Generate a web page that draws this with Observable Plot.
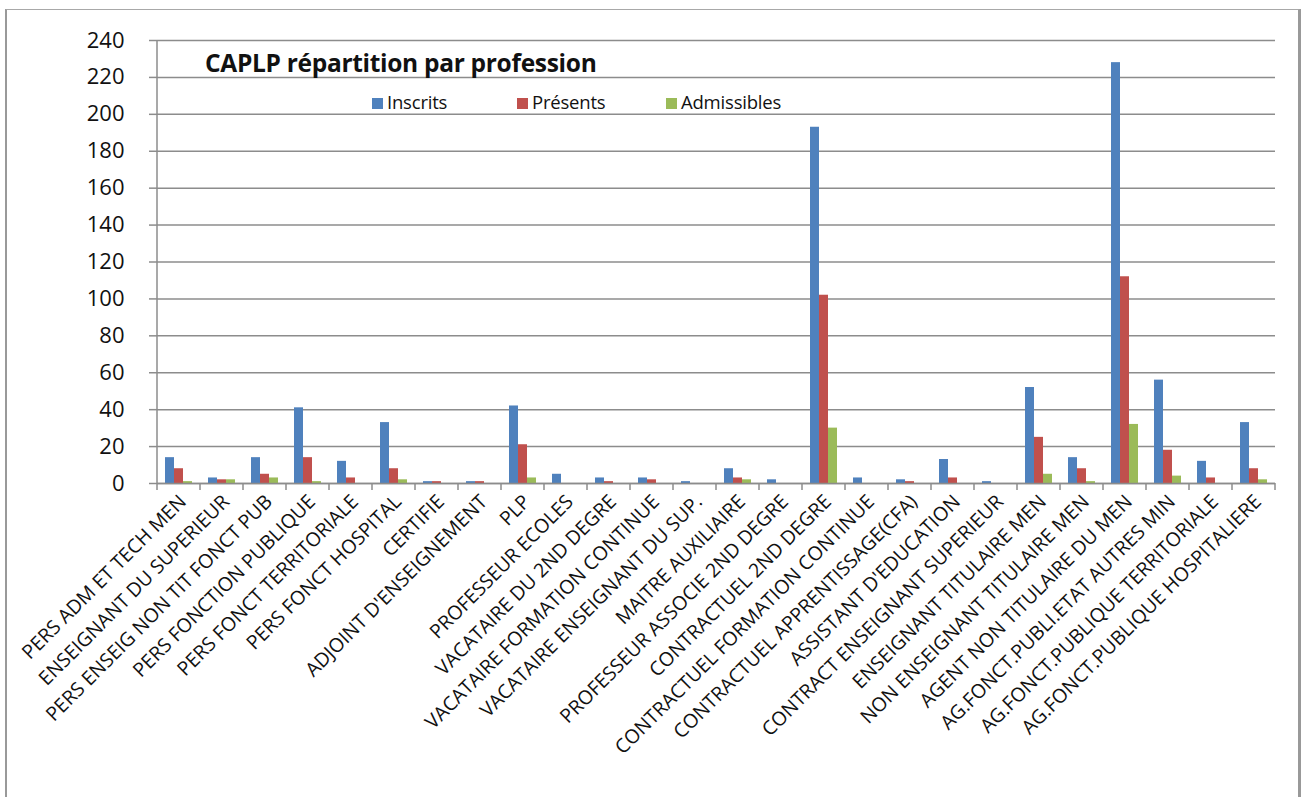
<!DOCTYPE html>
<html>
<head>
<meta charset="utf-8">
<script src="https://cdn.jsdelivr.net/npm/d3@7"></script>
<script src="https://cdn.jsdelivr.net/npm/@observablehq/plot@0.6"></script>
<style>
  html, body { margin: 0; padding: 0; background: #fff; overflow: hidden; }
  #wrap { position: relative; width: 1307px; height: 797px; }
  #frame { position: absolute; left: 5px; top: 9px; width: 1296px; height: 820px;
           border-top: 1.5px solid #a8a8a8; border-left: 2px solid #999; border-right: 3px solid #999; box-sizing: border-box; }
  #chart { position: absolute; left: 0; top: 0; }
  #title { position: absolute; left: 205px; top: 49px; font: bold 24.5px "Open Sans", sans-serif; line-height: 28px; color: #111; white-space: nowrap; letter-spacing: -0.3px; }
  .leg { position: absolute; top: 91px; font: 18.5px "Open Sans", sans-serif; line-height: 22px; color: #111; white-space: nowrap; letter-spacing: -0.2px; }
  .leg span.sw { display: inline-block; width: 11px; height: 11px; margin-right: 4px; vertical-align: 0px; }
</style>
</head>
<body>
<div id="wrap">
  <div id="frame"></div>
  <div id="chart"></div>
  <div id="title">CAPLP répartition par profession</div>
  <div id="legend"></div>
</div>
<script>
const categories = [
  "PERS ADM ET TECH MEN",
  "ENSEIGNANT DU SUPERIEUR",
  "PERS ENSEIG NON TIT FONCT PUB",
  "PERS FONCTION PUBLIQUE",
  "PERS FONCT TERRITORIALE",
  "PERS FONCT HOSPITAL",
  "CERTIFIE",
  "ADJOINT D'ENSEIGNEMENT",
  "PLP",
  "PROFESSEUR ECOLES",
  "VACATAIRE DU 2ND DEGRE",
  "VACATAIRE FORMATION CONTINUE",
  "VACATAIRE ENSEIGNANT DU SUP.",
  "MAITRE AUXILIAIRE",
  "PROFESSEUR ASSOCIE 2ND DEGRE",
  "CONTRACTUEL 2ND DEGRE",
  "CONTRACTUEL FORMATION CONTINUE",
  "CONTRACTUEL APPRENTISSAGE(CFA)",
  "ASSISTANT D'EDUCATION",
  "CONTRACT ENSEIGNANT SUPERIEUR",
  "ENSEIGNANT TITULAIRE MEN",
  "NON ENSEIGNANT TITULAIRE MEN",
  "AGENT NON TITULAIRE DU MEN",
  "AG.FONCT.PUBLI.ETAT AUTRES MIN",
  "AG.FONCT.PUBLIQUE TERRITORIALE",
  "AG.FONCT.PUBLIQUE HOSPITALIERE"
];
const inscrits    = [14, 3, 14, 41, 12, 33, 1, 1, 42, 5, 3, 3, 1, 8, 2, 193, 3, 2, 13, 1, 52, 14, 228, 56, 12, 33];
const presents    = [ 8, 2,  5, 14,  3,  8, 1, 1, 21, 0, 1, 2, 0, 3, 0, 102, 0, 1,  3, 0, 25,  8, 112, 18,  3,  8];
const admissibles = [ 1, 2,  3,  1,  0,  2, 0, 0,  3, 0, 0, 0, 0, 2, 0,  30, 0, 0,  0, 0,  5,  1,  32,  4,  0,  2];
const seriesNames = ["Inscrits", "Présents", "Admissibles"];
const seriesColors = ["#4F81BD", "#C0504D", "#9BBB59"];
const yTicks = [0, 20, 40, 60, 80, 100, 120, 140, 160, 180, 200, 220, 240];

const seriesValues = [inscrits, presents, admissibles];
const data = [];
categories.forEach((c, i) => {
  seriesNames.forEach((s, j) => data.push({cat: c, series: s, value: seriesValues[j][i]}));
});

const chart = Plot.plot({
  width: 1307,
  height: 797,
  marginLeft: 149,
  marginRight: 24,
  marginTop: 40,
  marginBottom: 314,
  style: {background: "transparent", fontFamily: "'Open Sans', sans-serif", color: "#111"},
  fx: {domain: categories, padding: 0, label: null, axis: null},
  x: {domain: seriesNames, paddingInner: 0, paddingOuter: 0.7, axis: null},
  y: {domain: [0, 240], label: null},
  color: {domain: seriesNames, range: seriesColors},
  marks: [
    Plot.gridY(yTicks, {stroke: "#8c8c8c", strokeOpacity: 1, strokeWidth: 1.5}),
    Plot.axisY(yTicks, {tickSize: 8, tickPadding: 25, fontSize: 22, stroke: "#8c8c8c", strokeWidth: 1.5, label: null}),
    Plot.barY(data, {fx: "cat", x: "series", y: "value", fill: "series"}),
    Plot.ruleY([0], {stroke: "#8c8c8c", strokeWidth: 1.5}),
    Plot.axisFx({anchor: "bottom", tickRotate: -45, tickSize: 0, tickPadding: 15, fontSize: 19.5,
                 lineWidth: Infinity, textOverflow: null, label: null, fill: "#111", dx: 4})
  ]
});

// axis line and category boundary ticks, positioned from Plot's own scales
const fx = chart.scale("fx");
const ys = chart.scale("y");
const svg = d3.select(chart.tagName.toLowerCase() === "svg" ? chart : chart.querySelector("svg"));
const y0 = ys.apply(0), yTop = ys.apply(240);
const bounds = categories.map(c => fx.apply(c));
bounds.push(fx.apply(categories[categories.length - 1]) + fx.bandwidth);
const g = svg.append("g").attr("stroke", "#8c8c8c").attr("stroke-width", 1.5);
g.append("line").attr("x1", bounds[0]).attr("x2", bounds[0]).attr("y1", yTop).attr("y2", y0);
bounds.forEach(b => g.append("line").attr("x1", b).attr("x2", b).attr("y1", y0).attr("y2", y0 + 7));

document.getElementById("chart").appendChild(chart);

// legend
const legendX = [372, 517, 666];
const legend = document.getElementById("legend");
seriesNames.forEach((s, i) => {
  const d = document.createElement("div");
  d.className = "leg";
  d.style.left = legendX[i] + "px";
  d.innerHTML = `<span class="sw" style="background:${seriesColors[i]}"></span>${s}`;
  legend.appendChild(d);
});
</script>
</body>
</html>
